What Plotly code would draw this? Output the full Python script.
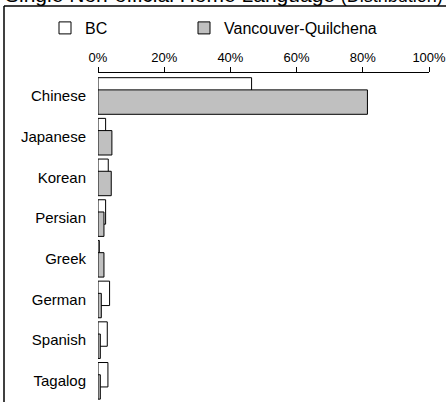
import plotly.graph_objects as go

categories = ["Chinese", "Japanese", "Korean", "Persian", "Greek", "German", "Spanish", "Tagalog"]
bc_values = [46.4, 2.3, 3.1, 2.3, 0.4, 3.5, 2.8, 3.0]
vq_values = [81.4, 4.2, 4.0, 1.8, 1.8, 1.0, 0.7, 0.7]
x_ticks = [0, 20, 40, 60, 80, 100]
x_tick_labels = ["0%", "20%", "40%", "60%", "80%", "100%"]

positions = list(range(len(categories)))

fig = go.Figure()
fig.add_trace(go.Bar(
    y=positions, x=bc_values, orientation="h", name="BC",
    width=0.6, offset=-0.45, legend="legend",
    marker=dict(color="white", line=dict(color="black", width=1)),
))
fig.add_trace(go.Bar(
    y=positions, x=vq_values, orientation="h", name="Vancouver-Quilchena",
    width=0.6, offset=-0.15, legend="legend2",
    marker=dict(color="#C0C0C0", line=dict(color="black", width=1)),
))

L, R, T, B = 98, 17, 73, 0
W, H = 446, 402
pw = W - L - R
ph = H - T - B

def px_x(p):
    return (p - L) / pw

def px_y(p):
    return 1 + (T - p) / ph

legend_common = dict(orientation="h", xanchor="left", yanchor="top",
                     font=dict(size=16), itemwidth=30, bgcolor="rgba(0,0,0,0)")

fig.update_layout(
    width=W, height=H,
    margin=dict(l=L, r=R, t=T, b=B),
    paper_bgcolor="white", plot_bgcolor="white",
    barmode="overlay",
    font=dict(family="Liberation Sans, Arial", color="black", size=13),
    showlegend=True,
    legend=dict(x=px_x(45), y=px_y(11), **legend_common),
    legend2=dict(x=px_x(184), y=px_y(11), **legend_common),
    xaxis=dict(
        side="top", range=[0, 100], tickvals=x_ticks, ticktext=x_tick_labels,
        showgrid=False, zeroline=False, showline=True, linecolor="black", linewidth=1,
        ticks="outside", ticklen=5, tickcolor="black", tickfont=dict(size=13),
        ticklabeloverflow="allow",
    ),
    yaxis=dict(
        range=[7.52, -0.565], tickvals=positions, ticktext=categories,
        showgrid=False, zeroline=False, showline=False, ticks="",
        tickfont=dict(size=15), ticklabelstandoff=11,
    ),
    shapes=[
        dict(type="line", xref="paper", yref="paper", x0=px_x(4), x1=px_x(446),
             y0=px_y(6), y1=px_y(6), line=dict(color="black", width=1.5)),
        dict(type="line", xref="paper", yref="paper", x0=px_x(4), x1=px_x(4),
             y0=px_y(6), y1=px_y(410), line=dict(color="black", width=1.5)),
    ],
    annotations=[
        dict(xref="paper", yref="paper", x=px_x(3), y=px_y(7.5), xanchor="left", yanchor="bottom",
             showarrow=False,
             text="Single Non-official Home Language <span style='font-size:18px'>(Distribution)</span>",
             font=dict(size=21)),
    ],
)

fig.write_html("out.html", config={"displayModeBar": False},
               post_script="document.body.style.margin='0';document.body.style.overflow='hidden';")
